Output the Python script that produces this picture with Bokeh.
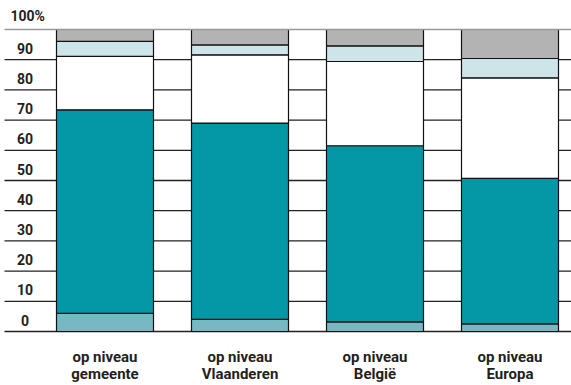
from bokeh.plotting import figure
from bokeh.models import ColumnDataSource, Range1d
from bokeh.core.properties import value
from bokeh.embed import file_html
from bokeh.resources import INLINE

# ---- data ----
categories = ["op niveau\ngemeente", "op niveau\nVlaanderen", "op niveau\nBelgië", "op niveau\nEuropa"]
seg1 = [6.0, 4.0, 3.2, 2.5]        # light teal (bottom)
seg2 = [67.4, 65.0, 58.3, 48.2]    # dark teal
seg3 = [17.7, 22.6, 27.9, 33.3]    # white
seg4 = [5.0, 3.3, 5.2, 6.4]        # light blue
seg5 = [3.9, 5.1, 5.4, 9.6]        # grey (top)
y_ticks = [0, 10, 20, 30, 40, 50, 60, 70, 80, 90]
y_tick_labels = ["0", "10", "20", "30", "40", "50", "60", "70", "80", "90"]
top_label = "100%"

colors = ["#77B8C2", "#0497A6", "#FFFFFF", "#CDE4E8", "#B3B3B3"]
FONT = "Roboto"

W, H = 571, 385
PX_X = 135.0
PX_Y = 3.02
x0 = -104.5 / PX_X
x1 = x0 + W / PX_X
y1 = 100 + 29 / PX_Y
y0 = -(H - 331) / PX_Y

p = figure(width=W, height=H, output_backend="svg", toolbar_location=None,
           x_range=Range1d(x0, x1), y_range=Range1d(y0, y1),
           min_border=0, min_border_left=0, min_border_right=0,
           min_border_top=0, min_border_bottom=0)
p.axis.visible = False
p.xgrid.visible = False
p.ygrid.visible = False
p.outline_line_color = None
p.background_fill_color = "white"
p.border_fill_color = "white"

gx0 = x0 + 4 / PX_X
# gridlines (behind bars)
p.segment(x0=[gx0] * len(y_ticks), y0=y_ticks, x1=[x1] * len(y_ticks), y1=y_ticks,
          line_color="#222222", line_width=1.3)

xs = list(range(len(categories)))
src = ColumnDataSource(dict(x=xs, s1=seg1, s2=seg2, s3=seg3, s4=seg4, s5=seg5))
p.vbar_stack(["s1", "s2", "s3", "s4", "s5"], x="x", width=97 / PX_X, color=colors,
             line_color="#111111", line_width=1.2, source=src)

# top line at 100
p.segment(x0=[gx0], y0=[100], x1=[x1], y1=[100], line_color="#999999", line_width=1.5)

# y labels
lx = x0 + 24.5 / PX_X
p.text(x=[lx] * len(y_ticks), y=[t + 3.8 for t in y_ticks], text=y_tick_labels,
       text_font=value(FONT), text_font_style="bold", text_font_size="14px",
       text_color="#231F20", text_align="center", text_baseline="middle")
p.text(x=[x0 + 10 / PX_X], y=[104.6], text=[top_label],
       text_font=value(FONT), text_font_style="bold", text_font_size="14px",
       text_color="#231F20", text_align="left", text_baseline="middle")

# category labels
line1 = [c.split("\n")[0] for c in categories]
line2 = [c.split("\n")[1] for c in categories]
p.text(x=xs, y=[-8.3] * len(xs), text=line1,
       text_font=value(FONT), text_font_style="bold", text_font_size="15px",
       text_color="#231F20", text_align="center", text_baseline="middle")
p.text(x=xs, y=[-14.2] * len(xs), text=line2,
       text_font=value(FONT), text_font_style="bold", text_font_size="15px",
       text_color="#231F20", text_align="center", text_baseline="middle")

open("out.html", "w").write(file_html(p, INLINE))
